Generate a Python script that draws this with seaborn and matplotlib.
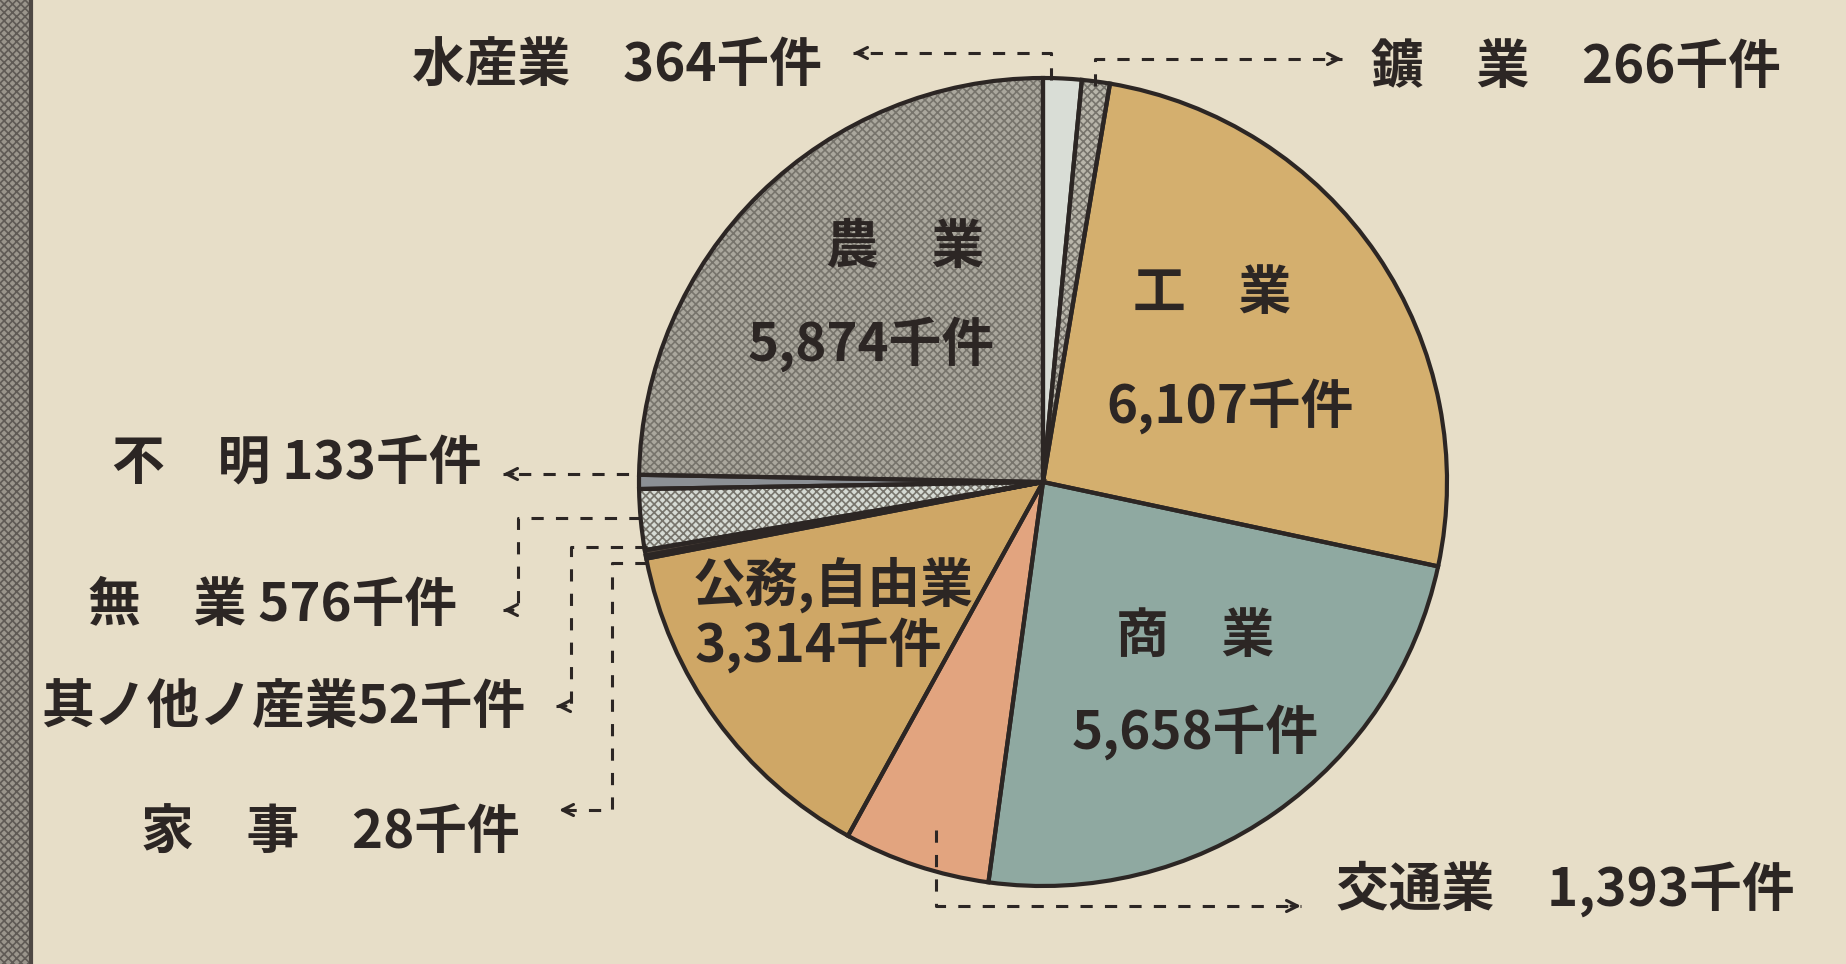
import matplotlib
matplotlib.use("Agg")
import matplotlib.pyplot as plt
import seaborn as sns
from matplotlib.patches import Rectangle

# Data (thousand cases), clockwise from 12 o'clock
categories = ["水産業", "鑛　業", "工　業", "商　業", "交通業", "公務,自由業",
              "家　事", "其ノ他ノ産業", "無　業", "不　明", "農　業"]
values = [364, 266, 6107, 5658, 1393, 3314, 28, 52, 576, 133, 5874]
unit = "千件"
# gap between name and number in the outside labels
gaps = {0: "　", 1: "　", 4: "　", 6: "　", 7: "", 8: " ", 9: " "}

colors = ["#d9ddd6", "#b9b6ab", "#d4af6e", "#8fa9a1", "#e2a47f", "#cfa766",
          "#dcd5c2", "#4a4038", "#d6dad4", "#8c9095", "#aaa79d"]
hatch_idx = [1, 8, 10]

sns.set_theme(style="white")
plt.rcParams["font.family"] = ["Noto Sans CJK JP", "DejaVu Sans"]
plt.rcParams["hatch.linewidth"] = 1.2

W, H = 1846, 964
paper = "#e7dec8"
ink = "#2c2624"

fig = plt.figure(figsize=(W / 100, H / 100), dpi=100)
fig.patch.set_facecolor(paper)
ax = fig.add_axes([0, 0, 1, 1])
ax.set_facecolor(paper)

cx, cy, r = 1043, H - 482, 404

# fills (hatch colour comes from edgecolor, so keep linewidth 0 here)
wedges, _ = ax.pie(values, colors=colors, startangle=90, counterclock=False,
                   center=(cx, cy), radius=r,
                   wedgeprops=dict(linewidth=0, edgecolor="#77746c"))
for i in hatch_idx:
    wedges[i].set_hatch("xxxx")
# outlines
ax.pie(values, colors=["none"] * len(values), startangle=90, counterclock=False,
       center=(cx, cy), radius=r,
       wedgeprops=dict(linewidth=3, edgecolor=ink, fill=False))

ax.set_xlim(0, W)
ax.set_ylim(0, H)
ax.set_aspect("equal")
ax.axis("off")

# left border strip
ax.add_patch(Rectangle((0, 0), 30, H, facecolor="#9a958c", edgecolor="#5f5a55",
                       hatch="xxxx", linewidth=0))
ax.plot([31, 31], [0, H], color="#4e4844", lw=3)

def Y(y):
    return H - y

tkw = dict(color=ink, fontweight="bold", fontsize=38, va="center")

# inside labels
for i, (x1, y1, x2, y2) in {10: (905, 247, 871, 344), 2: (1212, 294, 1230, 406),
                            3: (1195, 636, 1195, 732), 5: (833, 585, 818, 645)}.items():
    ax.text(x1, Y(y1), categories[i], ha="center", **tkw)
    ax.text(x2, Y(y2), f"{values[i]:,}{unit}", ha="center", **tkw)

# outside labels: (text x, text y, leader path)
outside = {
    0: (412, 66, [(1051, 80), (1051, 53), (853, 53)]),
    1: (1371, 68, [(1095, 86), (1095, 59), (1342, 59)]),
    9: (112, 463, [(653, 474), (503, 474)]),
    8: (88, 606, [(641, 518), (518, 518), (518, 610), (503, 610)]),
    7: (41, 708, [(647, 547), (571, 547), (571, 706), (556, 706)]),
    6: (141, 832, [(647, 563), (612, 563), (612, 810), (559, 810)]),
    4: (1336, 889, [(936, 830), (936, 906), (1301, 906)]),
}
for i, (tx, ty, path) in outside.items():
    ax.text(tx, Y(ty), f"{categories[i]}{gaps[i]}{values[i]:,}{unit}", ha="left", **tkw)
    xs = [p[0] for p in path]
    ys = [Y(p[1]) for p in path]
    ax.plot(xs, ys, color=ink, lw=2.2, ls=(0, (4, 4)))
    # short solid arrow head at the label end
    dx = 1 if xs[-1] > xs[-2] else -1
    ax.annotate("", xy=(xs[-1], ys[-1]), xytext=(xs[-1] - dx * 10, ys[-1]),
                arrowprops=dict(arrowstyle="->", color=ink, lw=2.2,
                                mutation_scale=20, shrinkA=0, shrinkB=0))

fig.savefig("out.png", dpi=100, facecolor=paper)
